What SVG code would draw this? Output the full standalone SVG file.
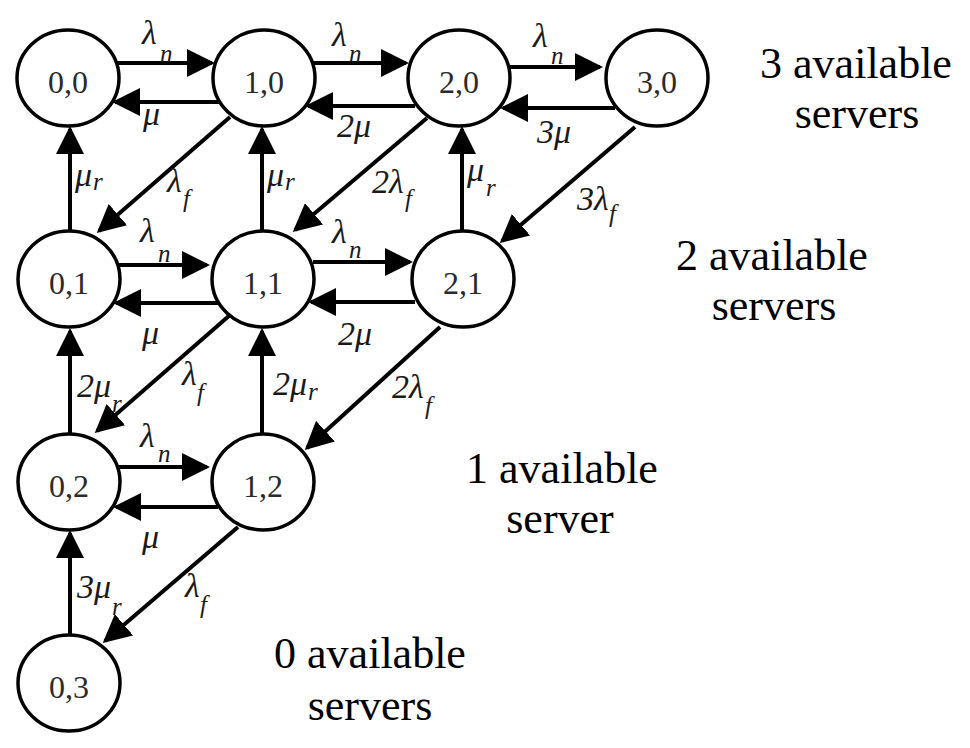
<svg xmlns="http://www.w3.org/2000/svg" width="970" height="748" viewBox="0 0 970 748">
<defs>
<marker id="ah" markerUnits="userSpaceOnUse" markerWidth="28" markerHeight="28" viewBox="0 0 28 28" refX="25" refY="14" orient="auto">
<path d="M0,0 L28,14 L0,28 Z" fill="#000"/>
</marker>
</defs>
<rect width="970" height="748" fill="#fff"/>
<g id="connectors" stroke="#000" stroke-width="4" marker-end="url(#ah)">
<line x1="116" y1="63" x2="212" y2="63"/>
<line x1="220" y1="102" x2="115" y2="102"/>
<line x1="312" y1="63" x2="406" y2="63"/>
<line x1="415" y1="106" x2="308" y2="106"/>
<line x1="506" y1="67" x2="600" y2="67"/>
<line x1="615" y1="108" x2="503" y2="108"/>
<line x1="70" y1="231" x2="70" y2="129"/>
<line x1="262" y1="231" x2="262" y2="129"/>
<line x1="462" y1="232" x2="462" y2="129"/>
<line x1="230" y1="117" x2="99" y2="231"/>
<line x1="427" y1="118" x2="295" y2="230"/>
<line x1="635" y1="127" x2="502" y2="241"/>
<line x1="119" y1="265" x2="207" y2="265"/>
<line x1="220" y1="303" x2="116" y2="303"/>
<line x1="313" y1="262" x2="410" y2="262"/>
<line x1="415" y1="302" x2="311" y2="302"/>
<line x1="230" y1="315" x2="97" y2="431"/>
<line x1="440" y1="327" x2="307" y2="448"/>
<line x1="70" y1="435" x2="70" y2="331"/>
<line x1="262" y1="435" x2="262" y2="331"/>
<line x1="119" y1="467" x2="207" y2="467"/>
<line x1="218" y1="507" x2="116" y2="507"/>
<line x1="238" y1="527" x2="105" y2="641"/>
<line x1="70" y1="635" x2="70" y2="533"/>
</g>
<g id="nodes" fill="#fff" stroke="#000" stroke-width="3.5">
<g id="n00"><ellipse cx="68" cy="78" rx="51" ry="48"/><text font-family="Liberation Serif" font-size="32" fill="#2a2a2a" stroke="none" text-anchor="middle" x="68" y="93">0,0</text></g>
<g id="n10"><ellipse cx="264" cy="78" rx="51" ry="48"/><text font-family="Liberation Serif" font-size="32" fill="#2a2a2a" stroke="none" text-anchor="middle" x="264" y="93">1,0</text></g>
<g id="n20"><ellipse cx="459" cy="78" rx="51" ry="48"/><text font-family="Liberation Serif" font-size="32" fill="#2a2a2a" stroke="none" text-anchor="middle" x="459" y="93">2,0</text></g>
<g id="n30"><ellipse cx="657" cy="78" rx="51" ry="48"/><text font-family="Liberation Serif" font-size="32" fill="#2a2a2a" stroke="none" text-anchor="middle" x="657" y="93">3,0</text></g>
<g id="n01"><ellipse cx="69" cy="279" rx="51" ry="48"/><text font-family="Liberation Serif" font-size="32" fill="#2a2a2a" stroke="none" text-anchor="middle" x="69" y="294">0,1</text></g>
<g id="n11"><ellipse cx="263" cy="279" rx="51" ry="48"/><text font-family="Liberation Serif" font-size="32" fill="#2a2a2a" stroke="none" text-anchor="middle" x="263" y="294">1,1</text></g>
<g id="n21"><ellipse cx="463" cy="279" rx="51" ry="48"/><text font-family="Liberation Serif" font-size="32" fill="#2a2a2a" stroke="none" text-anchor="middle" x="463" y="294">2,1</text></g>
<g id="n02"><ellipse cx="69" cy="482" rx="51" ry="48"/><text font-family="Liberation Serif" font-size="32" fill="#2a2a2a" stroke="none" text-anchor="middle" x="69" y="497">0,2</text></g>
<g id="n12"><ellipse cx="263" cy="482" rx="51" ry="48"/><text font-family="Liberation Serif" font-size="32" fill="#2a2a2a" stroke="none" text-anchor="middle" x="263" y="497">1,2</text></g>
<g id="n03"><ellipse cx="69" cy="683" rx="51" ry="48"/><text font-family="Liberation Serif" font-size="32" fill="#2a2a2a" stroke="none" text-anchor="middle" x="69" y="698">0,3</text></g>
</g>
<g id="labels">
<text font-family="Liberation Serif" font-style="italic" font-size="34" fill="#1a1a1a" x="142" y="44">λ<tspan font-size="25" x="160" y="62">n</tspan></text>
<text font-family="Liberation Serif" font-style="italic" font-size="34" fill="#1a1a1a" x="143" y="125">μ</text>
<text font-family="Liberation Serif" font-style="italic" font-size="34" fill="#1a1a1a" x="75" y="186">μ<tspan font-size="25" x="93" y="190">r</tspan></text>
<text font-family="Liberation Serif" font-style="italic" font-size="34" fill="#1a1a1a" x="167" y="192">λ<tspan font-size="25" x="183" y="207">f</tspan></text>
<text font-family="Liberation Serif" font-style="italic" font-size="34" fill="#1a1a1a" x="267" y="186">μ<tspan font-size="25" x="285" y="190">r</tspan></text>
<text font-family="Liberation Serif" font-style="italic" font-size="34" fill="#1a1a1a" x="332" y="46">λ<tspan font-size="25" x="349" y="62">n</tspan></text>
<text font-family="Liberation Serif" font-style="italic" font-size="34" fill="#1a1a1a" x="337" y="137">2μ</text>
<text font-family="Liberation Serif" font-style="italic" font-size="34" fill="#1a1a1a" x="533" y="47">λ<tspan font-size="25" x="551" y="64">n</tspan></text>
<text font-family="Liberation Serif" font-style="italic" font-size="34" fill="#1a1a1a" x="537" y="143">3μ</text>
<text font-family="Liberation Serif" font-style="italic" font-size="34" fill="#1a1a1a" x="372" y="193">2λ<tspan font-size="25" x="405" y="207">f</tspan></text>
<text font-family="Liberation Serif" font-style="italic" font-size="34" fill="#1a1a1a" x="467" y="181">μ<tspan font-size="25" x="486" y="196">r</tspan></text>
<text font-family="Liberation Serif" font-style="italic" font-size="34" fill="#1a1a1a" x="577" y="210">3λ<tspan font-size="25" x="609" y="222">f</tspan></text>
<text font-family="Liberation Serif" font-style="italic" font-size="34" fill="#1a1a1a" x="140" y="242">λ<tspan font-size="25" x="158" y="262">n</tspan></text>
<text font-family="Liberation Serif" font-style="italic" font-size="34" fill="#1a1a1a" x="142" y="344">μ</text>
<text font-family="Liberation Serif" font-style="italic" font-size="34" fill="#1a1a1a" x="77" y="397">2μ<tspan font-size="25" x="112" y="412">r</tspan></text>
<text font-family="Liberation Serif" font-style="italic" font-size="34" fill="#1a1a1a" x="182" y="385">λ<tspan font-size="25" x="197" y="401">f</tspan></text>
<text font-family="Liberation Serif" font-style="italic" font-size="34" fill="#1a1a1a" x="273" y="395">2μ<tspan font-size="25" x="308" y="400">r</tspan></text>
<text font-family="Liberation Serif" font-style="italic" font-size="34" fill="#1a1a1a" x="332" y="243">λ<tspan font-size="25" x="349" y="258">n</tspan></text>
<text font-family="Liberation Serif" font-style="italic" font-size="34" fill="#1a1a1a" x="338" y="345">2μ</text>
<text font-family="Liberation Serif" font-style="italic" font-size="34" fill="#1a1a1a" x="392" y="398">2λ<tspan font-size="25" x="425" y="414">f</tspan></text>
<text font-family="Liberation Serif" font-style="italic" font-size="34" fill="#1a1a1a" x="140" y="447">λ<tspan font-size="25" x="158" y="462">n</tspan></text>
<text font-family="Liberation Serif" font-style="italic" font-size="34" fill="#1a1a1a" x="142" y="548">μ</text>
<text font-family="Liberation Serif" font-style="italic" font-size="34" fill="#1a1a1a" x="77" y="598">3μ<tspan font-size="25" x="112" y="615">r</tspan></text>
<text font-family="Liberation Serif" font-style="italic" font-size="34" fill="#1a1a1a" x="185" y="597">λ<tspan font-size="25" x="200" y="613">f</tspan></text>
</g>
<g id="captions">
<text font-family="Liberation Serif" font-size="44" fill="#000" text-anchor="middle" x="856" y="78">3 available</text>
<text font-family="Liberation Serif" font-size="44" fill="#000" text-anchor="middle" x="857" y="128">servers</text>
<text font-family="Liberation Serif" font-size="44" fill="#000" text-anchor="middle" x="772" y="270">2 available</text>
<text font-family="Liberation Serif" font-size="44" fill="#000" text-anchor="middle" x="774" y="320">servers</text>
<text font-family="Liberation Serif" font-size="44" fill="#000" text-anchor="middle" x="562" y="483">1 available</text>
<text font-family="Liberation Serif" font-size="44" fill="#000" text-anchor="middle" x="560" y="533">server</text>
<text font-family="Liberation Serif" font-size="44" fill="#000" text-anchor="middle" x="370" y="668">0 available</text>
<text font-family="Liberation Serif" font-size="44" fill="#000" text-anchor="middle" x="370" y="720">servers</text>
</g>
</svg>
